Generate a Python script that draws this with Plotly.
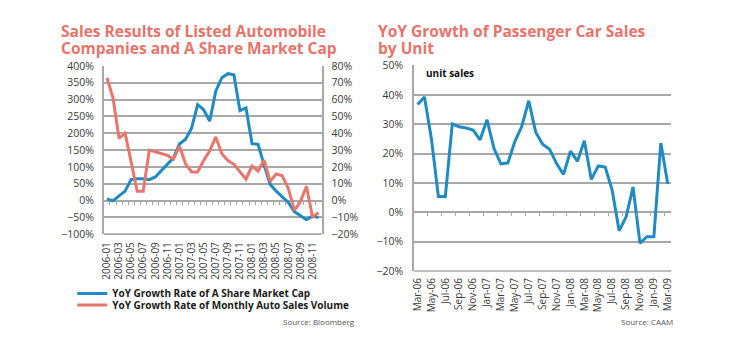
import plotly.graph_objects as go

# ---- Left panel: market cap vs. monthly auto sales (2006-01 .. 2008-12)
months_left = [f"{y}-{m:02d}" for y in (2006, 2007, 2008) for m in range(1, 13)]
market_cap_yoy = [5, -1, 14, 28, 62, 65, 65, 62, 70, 88, 108, 127,
                  168, 182, 215, 285, 270, 236, 325, 365, 377, 374, 267, 275,
                  169, 167, 105, 48, 28, 10, -6, -33, -44, -57, -46, -51]
auto_sales_yoy = [73, 61, 37, 40, 23, 5.5, 5.5, 30, 29, 28, 26.8, 24.5,
                  32.3, 21.8, 17, 17, 23.8, 29.5, 37.8, 27.8, 23.8, 21.5, 17, 12.7,
                  20.5, 17.5, 24, 11.3, 15.8, 14.7, 7.2, -5.8, -0.8, 8.5, -9.8, -7.3]
left_tick_labels = months_left[::2][:18]

# ---- Right panel: passenger car unit sales (Mar-06 .. Mar-09)
mon_abbr = ["Jan", "Feb", "Mar", "Apr", "May", "Jun", "Jul", "Aug", "Sep", "Oct", "Nov", "Dec"]
months_right = [f"{mon_abbr[(m - 1) % 12]}-{6 + (m - 1) // 12:02d}" for m in range(3, 40)]
unit_sales_yoy = [36.7, 39.3, 25, 5.4, 5.4, 30.1, 29.1, 28.7, 28.0, 24.7, 31.5, 21.7,
                  16.5, 16.8, 24.1, 29.3, 38.0, 27.3, 23.2, 21.5, 16.6, 12.9, 20.8, 17.4,
                  24.4, 11.2, 15.8, 15.4, 7.6, -6.3, -1.6, 8.6, -10.5, -8.3, -8.3, 23.6, 9.6]
right_tick_labels = months_right[::2]

left_title = ["Sales Results of Listed Automobile", "Companies and A Share Market Cap"]
right_title = ["YoY Growth of Passenger Car Sales", "by Unit"]

BLUE = "#1f8bc2"
RED = "#e8766d"
TITLE = "#e8736b"
GRID = "#a8a8a8"
TXT = "#3a3a3a"
FONT = "Open Sans"

W, H = 743, 337

def px_x(v):
    return v / W

def px_y(v):
    return 1 - v / H

# plot-area placement
L_X = [px_x(100), px_x(320)]
L_Y = [px_y(237), px_y(61.5)]
R_X = [px_x(413.5), px_x(673.5)]
R_Y = [px_y(275.5), px_y(61)]

fig = go.Figure()

fig.add_trace(go.Scatter(
    x=months_left, y=market_cap_yoy, name="YoY Growth Rate of A Share Market Cap",
    mode="lines", line=dict(color=BLUE, width=3), xaxis="x", yaxis="y",
    legend="legend"))
fig.add_trace(go.Scatter(
    x=months_left, y=auto_sales_yoy, name="YoY Growth Rate of Monthly Auto Sales Volume",
    mode="lines", line=dict(color=RED, width=3), xaxis="x", yaxis="y2",
    legend="legend2"))
fig.add_trace(go.Scatter(
    x=months_right, y=unit_sales_yoy, name="unit sales", showlegend=False,
    mode="lines", line=dict(color=BLUE, width=3), xaxis="x2", yaxis="y3"))

# empty traces so the zero-line tick axes get drawn
fig.add_trace(go.Scatter(x=[], y=[], xaxis="x3", yaxis="y", showlegend=False, hoverinfo="skip"))
fig.add_trace(go.Scatter(x=[], y=[], xaxis="x4", yaxis="y3", showlegend=False, hoverinfo="skip"))

tickfont = dict(family=FONT, size=10.5, color=TXT)
xtickfont = dict(family=FONT, size=10, color=TXT)
legend_font = dict(family=FONT, size=10, color="#1a1a1a", weight="bold")

# small tick marks along the zero line of each panel
zero_left = L_Y[0] + (0 - -100) / 500 * (L_Y[1] - L_Y[0])
zero_right = R_Y[0] + (0 - -20) / 70 * (R_Y[1] - R_Y[0])

fig.update_layout(
    width=W, height=H,
    margin=dict(l=0, r=0, t=0, b=0),
    paper_bgcolor="white", plot_bgcolor="white",
    showlegend=True,
    legend=dict(x=px_x(68), y=px_y(299), xanchor="left", yanchor="middle",
                font=legend_font, bgcolor="rgba(0,0,0,0)", itemwidth=30),
    legend2=dict(x=px_x(68), y=px_y(311), xanchor="left", yanchor="middle",
                 font=legend_font, bgcolor="rgba(0,0,0,0)", itemwidth=30),
    xaxis=dict(domain=L_X, anchor="y", type="category",
               range=[-0.5, len(months_left) - 0.5],
               tickmode="array", tickvals=left_tick_labels, ticktext=left_tick_labels,
               tickangle=-90, tickfont=xtickfont, ticks="", ticklabelstandoff=5,
               showgrid=False, showline=False, zeroline=False),
    yaxis=dict(domain=L_Y, anchor="x", range=[-100, 400], dtick=50,
               ticksuffix="%", tickfont=tickfont, showgrid=True, gridcolor=GRID,
               gridwidth=1.6, zeroline=False, showline=True, linecolor=GRID,
               linewidth=1.6, ticks="", ticklabelstandoff=6),
    yaxis2=dict(overlaying="y", side="right", anchor="x", range=[-20, 80], dtick=10,
                ticksuffix="%", tickfont=tickfont, showgrid=False, zeroline=False,
                showline=True, linecolor=GRID, linewidth=1.6, ticks="",
                ticklabelstandoff=6),
    xaxis3=dict(overlaying="x", anchor="free", position=zero_left,
                range=[-0.5, len(months_left) - 0.5],
                tickmode="array", tickvals=[i + 0.5 for i in range(len(months_left) - 1)],
                showticklabels=False, ticks="outside", ticklen=3, tickcolor=GRID,
                tickwidth=1.2, showgrid=False, zeroline=False, showline=False),
    xaxis2=dict(domain=R_X, anchor="y3", type="category",
                range=[-0.5, len(months_right) - 0.5],
                tickmode="array", tickvals=right_tick_labels, ticktext=right_tick_labels,
                tickangle=-90, tickfont=xtickfont, ticks="", ticklabelstandoff=4,
                showgrid=False, showline=False, zeroline=False),
    yaxis3=dict(domain=R_Y, anchor="x2", range=[-20, 50], dtick=10,
                ticksuffix="%", tickfont=tickfont, showgrid=True, gridcolor=GRID,
                gridwidth=1.6, zeroline=False, showline=True, linecolor=GRID,
                linewidth=1.6, ticks="", ticklabelstandoff=7),
    xaxis4=dict(overlaying="x2", anchor="free", position=zero_right,
                range=[-0.5, len(months_right) - 0.5],
                tickmode="array", tickvals=[i + 0.5 for i in range(1, len(months_right) - 1, 2)],
                showticklabels=False, ticks="outside", ticklen=3, tickcolor=GRID,
                tickwidth=1.2, showgrid=False, zeroline=False, showline=False),
)

# bottom borders of the plot areas
fig.add_shape(type="line", xref="x domain", yref="y domain", x0=0, x1=1, y0=0, y1=0,
              line=dict(color=GRID, width=1.6))
fig.add_shape(type="line", xref="x2 domain", yref="y3 domain", x0=0, x1=1, y0=0, y1=0,
              line=dict(color=GRID, width=1.6))

# panel titles, one annotation per line for tight line spacing
title_font = dict(family=FONT, size=15.5, color=TITLE, weight="bold")
for x0, lines in ((55, left_title), (375, right_title)):
    for k, line in enumerate(lines):
        fig.add_annotation(text=line, xref="paper", yref="paper",
                           x=px_x(x0), y=px_y(25.5 + 17.2 * k),
                           xanchor="left", yanchor="middle", align="left",
                           showarrow=False, font=title_font)

fig.add_annotation(text="unit sales", xref="paper", yref="paper",
                   x=px_x(424), y=px_y(69), xanchor="left", yanchor="middle",
                   showarrow=False, font=dict(family=FONT, size=10, color="#111", weight="bold"))
fig.add_annotation(text="Source: Bloomberg", xref="paper", yref="paper",
                   x=px_x(356), y=px_y(328), xanchor="right", yanchor="middle",
                   showarrow=False, font=dict(family=FONT, size=8, color="#555"))
fig.add_annotation(text="Source: CAAM", xref="paper", yref="paper",
                   x=px_x(677), y=px_y(328), xanchor="right", yanchor="middle",
                   showarrow=False, font=dict(family=FONT, size=8, color="#555"))

fig.write_html("out.html")
